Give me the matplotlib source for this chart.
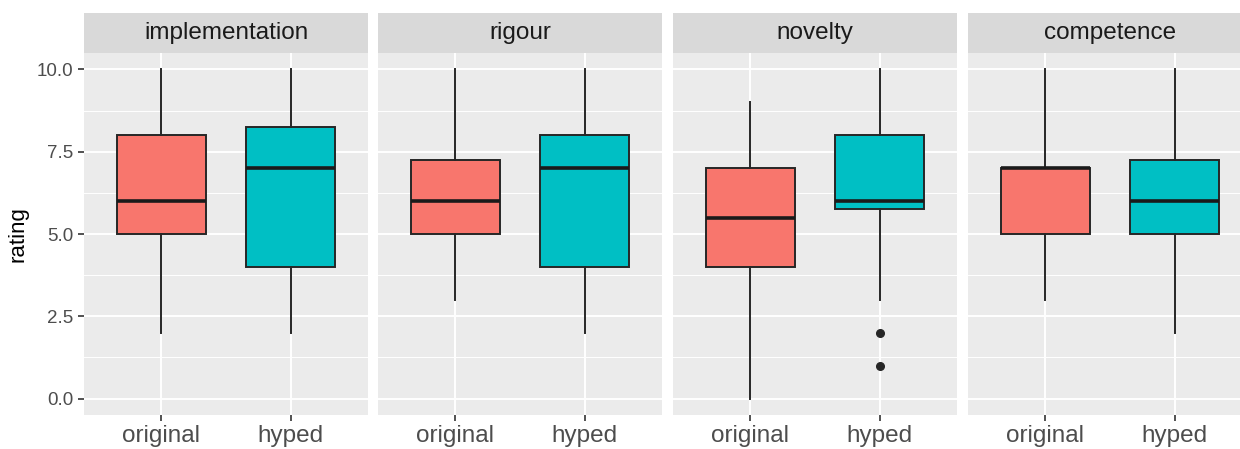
import matplotlib
matplotlib.use("Agg")
from matplotlib import pyplot as plt

plt.rcParams['font.family'] = ['Liberation Sans', 'DejaVu Sans']

facets = ['implementation', 'rigour', 'novelty', 'competence']
groups = ['original', 'hyped']
colors = ['#F8766D', '#00BFC4']

# per facet: [original, hyped] -> (whislo, q1, med, q3, whishi)
whislo = [[2, 2], [3, 2], [0, 3], [3, 2]]
q1 = [[5, 4], [5, 4], [4, 5.75], [5, 5]]
med = [[6, 7], [6, 7], [5.5, 6], [7, 6]]
q3 = [[8, 8.25], [7.25, 8], [7, 8], [7, 7.25]]
whishi = [[10, 10], [10, 10], [9, 10], [10, 10]]
fliers = [[[], []], [[], []], [[], [2, 1]], [[], []]]

yticks = [0, 2.5, 5, 7.5, 10]
ytick_labels = ['0.0', '2.5', '5.0', '7.5', '10.0']

W, H = 1240, 449
fig = plt.figure(figsize=(W / 100, H / 100), dpi=100)

lefts = [84, 378, 673, 968]
pw = 284
top, strip_bot, bot = 13, 53, 415

for k, name in enumerate(facets):
    ax = fig.add_axes([lefts[k] / W, 1 - bot / H, pw / W, (bot - strip_bot) / H])
    ax.set_facecolor('#ebebeb')
    stats = []
    for j in range(2):
        stats.append(dict(whislo=whislo[k][j], q1=q1[k][j], med=med[k][j],
                          q3=q3[k][j], whishi=whishi[k][j], fliers=fliers[k][j]))
    bp = ax.bxp(stats, positions=[1, 2], widths=0.69, patch_artist=True,
                showcaps=False, zorder=3,
                boxprops=dict(edgecolor='#262626', linewidth=1.4),
                medianprops=dict(color='#1a1a1a', linewidth=2.6),
                whiskerprops=dict(color='#262626', linewidth=1.4),
                flierprops=dict(marker='o', markerfacecolor='#262626',
                                markeredgecolor='#262626', markersize=5.5))
    for patch, c in zip(bp['boxes'], colors):
        patch.set_facecolor(c)

    ax.set_xlim(0.4, 2.6)
    ax.set_ylim(-0.5, 10.5)
    ax.set_yticks(yticks)
    ax.set_yticks([1.25, 3.75, 6.25, 8.75], minor=True)
    ax.set_xticks([1, 2])
    ax.set_xticklabels(groups, fontsize=17.5, color='#4d4d4d')
    ax.grid(True, which='major', color='white', linewidth=1.4, zorder=0)
    ax.grid(True, which='minor', axis='y', color='white', linewidth=0.7, zorder=0)
    ax.set_axisbelow(True)
    for s in ax.spines.values():
        s.set_visible(False)
    ax.tick_params(axis='both', which='major', length=4, width=1.2, color='#333333')
    ax.tick_params(axis='y', which='minor', length=0)
    ax.tick_params(axis='x', pad=3)
    if k == 0:
        ax.set_yticklabels(ytick_labels, fontsize=13.5, color='#4d4d4d')
        ax.set_ylabel('rating', fontsize=16, color='black', labelpad=6)
    else:
        ax.tick_params(axis='y', which='both', left=False, labelleft=False)

    sax = fig.add_axes([lefts[k] / W, 1 - strip_bot / H, pw / W, (strip_bot - top) / H])
    sax.set_facecolor('#d9d9d9')
    sax.set_xticks([])
    sax.set_yticks([])
    for s in sax.spines.values():
        s.set_visible(False)
    sax.text(0.5, 0.5, name, ha='center', va='center', fontsize=17.5,
             color='#1a1a1a', transform=sax.transAxes)

fig.savefig('out.png', dpi=100)
